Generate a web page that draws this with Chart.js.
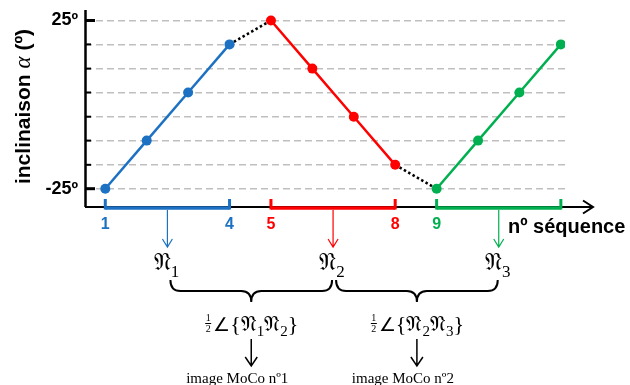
<!DOCTYPE html>
<html lang="fr">
<head>
<meta charset="UTF-8">
<title>Inclinaison par séquence</title>
<script src="https://cdn.jsdelivr.net/npm/chart.js@4/dist/chart.umd.min.js"></script>
<style>
  html, body { margin: 0; padding: 0; background: #fff; }
  canvas { display: block; }
</style>
</head>
<body>
<canvas id="chart" width="630" height="385"></canvas>
<script>
// values (inclinaison in degrees, per sequence number)
const seqBlue  = [1, 2, 3, 4];
const incBlue  = [-25, -10.7, 3.6, 17.9];
const seqRed   = [5, 6, 7, 8];
const incRed   = [25, 10.7, -3.6, -17.9];
const seqGreen = [9, 10, 11, 12];
const incGreen = [-25, -10.7, 3.6, 17.9];

const gridValues = [-25, -17.9, -10.7, -3.6, 3.6, 10.7, 17.9, 25];
const yLabels    = { '25': '25º', '-25': '-25º' };
const xTicks     = [1, 4, 5, 8, 9];
const groupNames = ['1', '2', '3'];
const pairNames  = [['1', '2'], ['2', '3']];
const mocoLabels = ['image MoCo nº1', 'image MoCo nº2'];

const BLUE = '#1d71c2', RED = '#ff0000', GREEN = '#00b050';
const SANS  = '"Liberation Sans", Arial, sans-serif';
const SERIF = '"Liberation Serif", "Times New Roman", serif';
const FRAK  = '"DejaVu Serif", "DejaVu Sans", serif';

const groups = [
  { seq: seqBlue,  inc: incBlue,  color: BLUE },
  { seq: seqRed,   inc: incRed,   color: RED },
  { seq: seqGreen, inc: incGreen, color: GREEN },
];

const pts = (s, v) => s.map((x, i) => ({ x, y: v[i] }));
const last = a => a[a.length - 1];

function tickColor(v) {
  const g = groups.find(g => v >= g.seq[0] && v <= last(g.seq));
  return g ? g.color : '#000';
}

const datasets = groups.map(g => ({
  data: pts(g.seq, g.inc), borderColor: g.color, backgroundColor: g.color,
  borderWidth: 2.5, pointRadius: 5, pointBorderWidth: 0, tension: 0, order: 0,
}));
// dotted links between the groups
for (let i = 0; i < groups.length - 1; i++) {
  const a = groups[i], b = groups[i + 1];
  datasets.push({
    data: [{ x: last(a.seq), y: last(a.inc) }, { x: b.seq[0], y: b.inc[0] }],
    borderColor: '#000', borderWidth: 2.5, borderDash: [2.5, 2.5], pointRadius: 0, order: 1,
  });
}

// draws a row of [text, font, dy] pieces centred on cx; a 'frac' piece is a small stacked fraction
function drawParts(ctx, parts, cx, base) {
  let w = 0;
  parts.forEach(p => {
    ctx.font = p[1];
    p.w = p[0] === 'frac' ? 9 : ctx.measureText(p[0]).width;
    w += p.w;
  });
  let x = cx - w / 2;
  ctx.textBaseline = 'alphabetic';
  parts.forEach(p => {
    ctx.font = p[1];
    if (p[0] === 'frac') {
      ctx.textAlign = 'center';
      ctx.fillText(p[2], x + 4, base - 10);
      ctx.fillText(p[3], x + 4, base + 1);
      ctx.fillRect(x + 1, base - 8, 6, 1);
    } else {
      ctx.textAlign = 'left';
      ctx.fillText(p[0], x, base + (p[2] || 0));
    }
    x += p.w;
  });
}

function arrowDown(ctx, x, y1, y2, color, lw, aw, ah) {
  ctx.strokeStyle = color; ctx.lineWidth = lw;
  ctx.beginPath();
  ctx.moveTo(x, y1); ctx.lineTo(x, y2);
  ctx.moveTo(x - aw, y2 - ah); ctx.lineTo(x, y2); ctx.lineTo(x + aw, y2 - ah);
  ctx.stroke();
}

function brace(ctx, x1, x2, y, h) {
  const xm = (x1 + x2) / 2, ym = y + h / 2, r = 10;
  ctx.beginPath();
  ctx.moveTo(x1, y);
  ctx.quadraticCurveTo(x1, ym, x1 + r, ym);
  ctx.lineTo(xm - r, ym);
  ctx.quadraticCurveTo(xm, ym, xm, y + h);
  ctx.quadraticCurveTo(xm, ym, xm + r, ym);
  ctx.lineTo(x2 - r, ym);
  ctx.quadraticCurveTo(x2, ym, x2, y);
  ctx.stroke();
}

const overlay = {
  id: 'overlay',
  afterDraw(chart) {
    const { ctx, chartArea: a, scales: { x, y } } = chart;
    ctx.save();
    ctx.lineCap = 'butt';

    // y axis + inner ticks
    ctx.strokeStyle = '#000'; ctx.lineWidth = 2.5;
    ctx.beginPath(); ctx.moveTo(a.left + 0.5, a.top); ctx.lineTo(a.left + 0.5, a.bottom); ctx.stroke();
    gridValues.forEach(v => {
      const py = y.getPixelForValue(v), major = Math.abs(v) === 25;
      ctx.lineWidth = major ? 3 : 2;
      ctx.beginPath(); ctx.moveTo(a.left, py); ctx.lineTo(a.left + (major ? 10 : 6), py); ctx.stroke();
    });

    // x axis with arrow
    const by = a.bottom;
    ctx.lineWidth = 2;
    ctx.beginPath(); ctx.moveTo(a.left, by); ctx.lineTo(593, by);
    ctx.moveTo(583, by - 6.5); ctx.lineTo(593, by); ctx.lineTo(583, by + 6.5);
    ctx.stroke();

    // coloured brackets, arrows and labels under each group
    const mids = [];
    groups.forEach((g, i) => {
      const x1 = x.getPixelForValue(g.seq[0]), x2 = x.getPixelForValue(last(g.seq));
      ctx.strokeStyle = g.color; ctx.lineWidth = 3.5;
      ctx.beginPath(); ctx.moveTo(x1, by + 1); ctx.lineTo(x2, by + 1); ctx.stroke();
      ctx.lineWidth = 3;
      ctx.beginPath();
      ctx.moveTo(x1, by - 8); ctx.lineTo(x1, by + 2.5);
      ctx.moveTo(x2, by - 8); ctx.lineTo(x2, by + 2.5);
      ctx.stroke();
      const xm = x.getPixelForValue((g.seq[0] + last(g.seq)) / 2);
      mids.push(xm);
      arrowDown(ctx, xm, by + 3, 247, g.color, 1.2, 5, 8);
      ctx.fillStyle = '#000';
      drawParts(ctx, [['𝔑', '24px ' + FRAK], [groupNames[i], '17px ' + SERIF, 7]], xm - 1, 270);
    });

    // braces, half-angle formulas, arrows to MoCo images
    for (let i = 0; i < mids.length - 1; i++) {
      const x1 = mids[i] + 3, x2 = mids[i + 1] - 1, tip = (x1 + x2) / 2;
      ctx.strokeStyle = '#000'; ctx.lineWidth = 2;
      brace(ctx, x1, x2, 280, 22);
      const [p, q] = pairNames[i];
      ctx.fillStyle = '#000';
      drawParts(ctx, [
        ['frac', '10px ' + SERIF, '1', '2'], ['∠', '19px ' + SERIF], ['{', '22px ' + SERIF],
        ['𝔑', '22px ' + FRAK], [p, '15px ' + SERIF, 5],
        ['𝔑', '22px ' + FRAK], [q, '15px ' + SERIF, 5],
        ['}', '22px ' + SERIF],
      ], tip, 331);
      arrowDown(ctx, tip, 339, 366, '#000', 1.5, 6, 9);
      ctx.font = '15px ' + SERIF; ctx.textAlign = 'center'; ctx.textBaseline = 'alphabetic';
      ctx.fillText(mocoLabels[i], tip - 14, 383);
    }

    // x title
    ctx.font = 'bold 20px ' + SANS; ctx.fillStyle = '#000';
    ctx.textAlign = 'left'; ctx.textBaseline = 'alphabetic';
    ctx.fillText('nº séquence', 508, 233);

    // y title, rotated, with italic alpha
    ctx.translate(22, 106.5); ctx.rotate(-Math.PI / 2);
    drawParts(ctx, [['inclinaison ', 'bold 21px ' + SANS], ['α', 'italic 23px ' + SERIF], [' (º)', 'bold 21px ' + SANS]], 0, 7.5);
    ctx.restore();
  },
};

new Chart(document.getElementById('chart'), {
  type: 'line',
  data: { datasets },
  options: {
    responsive: false, animation: false, devicePixelRatio: 1,
    layout: { padding: { top: 10, right: 65, left: 0, bottom: 0 } },
    plugins: { legend: { display: false }, tooltip: { enabled: false } },
    elements: { line: { borderCapStyle: 'butt' } },
    scales: {
      x: {
        type: 'linear', min: 0.51, max: 12.1,
        afterFit: s => { s.height = 178; s.paddingLeft = 0; s.paddingRight = 0; },
        afterBuildTicks: s => { s.ticks = xTicks.map(v => ({ value: v })); },
        grid: { display: false, drawTicks: false }, border: { display: false },
        ticks: {
          padding: 8, autoSkip: false, maxRotation: 0,
          font: { family: SANS, size: 16, weight: 'bold' },
          color: c => tickColor(c.tick.value), callback: v => String(v),
        },
      },
      y: {
        min: -30.44, max: 28.12,
        afterFit: s => { s.width = 85; s.paddingTop = 0; s.paddingBottom = 0; },
        afterBuildTicks: s => { s.ticks = gridValues.map(v => ({ value: v })); },
        grid: { color: '#bfbfbf', lineWidth: 1.5, drawTicks: false },
        border: { display: false, dash: [7, 4] },
        ticks: {
          padding: 7, color: '#000',
          font: { family: SANS, size: 18, weight: 'bold', lineHeight: 1 },
          callback: v => yLabels[v] ?? '',
        },
      },
    },
  },
  plugins: [overlay],
});
</script>
</body>
</html>
